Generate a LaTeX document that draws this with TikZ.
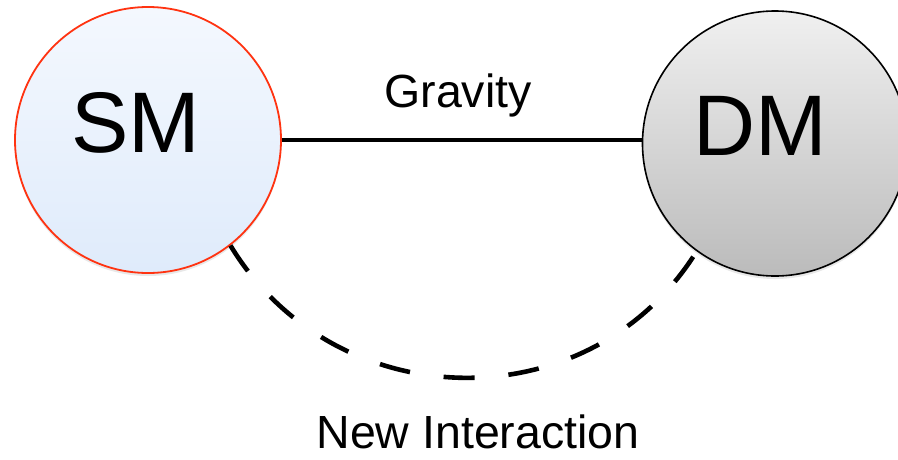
\documentclass[tikz,border=0pt]{standalone}
\usepackage{fontspec}
\setmainfont{Liberation Sans}
\usetikzlibrary{shadows}
\definecolor{smtop}{HTML}{F4F8FE}
\definecolor{smbot}{HTML}{DFEBFB}
\definecolor{smred}{HTML}{FF3311}
\definecolor{dmtop}{HTML}{F0F0F0}
\definecolor{dmbot}{HTML}{BBBBBB}
\tikzset{
  ball/.style={circle, inner sep=0pt, minimum size=#1,
    drop shadow={shadow xshift=0pt, shadow yshift=-3pt, opacity=0.18}},
  bigtxt/.style={anchor=base, inner sep=0pt, font=\fontsize{86}{86}\selectfont},
  midtxt/.style={anchor=base, inner sep=0pt, font=\fontsize{46.5}{46.5}\selectfont},
  link/.style={line width=4.2pt},
  newlink/.style={line width=4.6pt, dash pattern=on 31pt off 34pt}
}
\begin{document}
\begin{tikzpicture}[x=1pt,y=-1pt]
\useasboundingbox (0,0) rectangle (898,459);
\node[ball=266pt, draw=smred, line width=1.8pt, top color=smtop, bottom color=smbot] (SM) at (148,140) {};
\node[ball=265pt, draw=black, line width=1.6pt, top color=dmtop, bottom color=dmbot] (DM) at (775,143.5) {};
\node[bigtxt] (SMt) at (136,152) {SM};
\node[bigtxt] (DMt) at (760,155) {DM};
\draw[link] (SM.east) -- (SM.east -| DM.west);
\node[midtxt] (grav) at (458,107) {Gravity};
\draw[newlink] (SM.-52) .. controls +(105,173) and +(-107,172) .. (DM.-126);
\node[midtxt] (newi) at (478,448.5) {New Interaction};
\end{tikzpicture}
\end{document}
